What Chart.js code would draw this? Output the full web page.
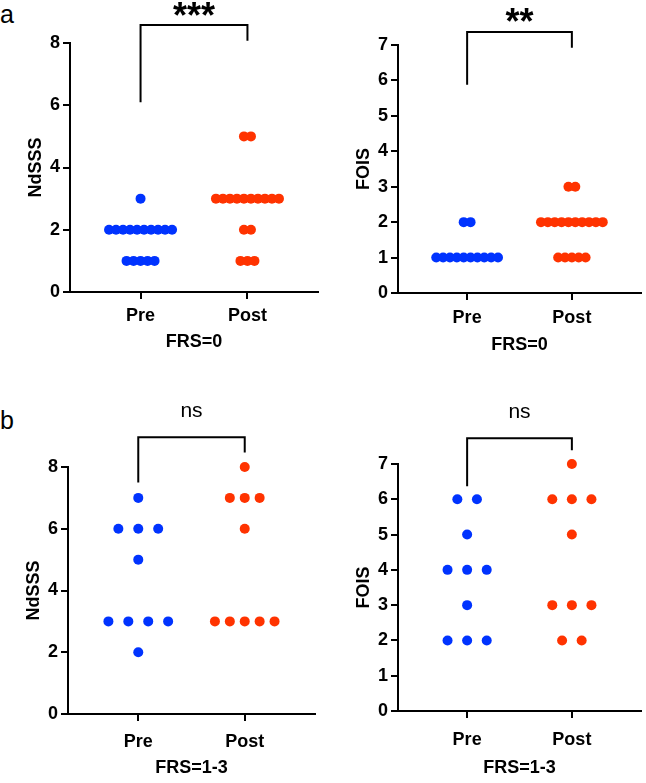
<!DOCTYPE html>
<html>
<head>
<meta charset="utf-8">
<script src="https://cdn.jsdelivr.net/npm/chart.js@4.4.0/dist/chart.umd.min.js"></script>
<style>
  body { margin: 0; background: #fff; width: 646px; height: 783px; position: relative; overflow: hidden; font-family: "Liberation Sans", Arial, sans-serif; }
  canvas { position: absolute; }
  .panel-label { position: absolute; left: 0; font-size: 25px; line-height: 1; color: #000; }
</style>
</head>
<body>
<div class="panel-label" style="top:2px">a</div>
<div class="panel-label" style="top:408px">b</div>
<canvas id="tl"></canvas>
<canvas id="tr"></canvas>
<canvas id="bl"></canvas>
<canvas id="br"></canvas>
<script>
// group names on the x axis
const groups = ['Pre', 'Post'];

// FRS=0, NdSSS
const ndsss0Pre  = [3, 2, 2, 2, 2, 2, 2, 2, 2, 2, 2, 1, 1, 1, 1, 1];
const ndsss0Post = [5, 5, 3, 3, 3, 3, 3, 3, 3, 3, 3, 3, 2, 2, 1, 1, 1];
// FRS=0, FOIS
const fois0Pre   = [2, 2, 1, 1, 1, 1, 1, 1, 1, 1, 1, 1];
const fois0Post  = [3, 3, 2, 2, 2, 2, 2, 2, 2, 2, 2, 2, 1, 1, 1, 1, 1];
// FRS=1-3, NdSSS
const ndsss13Pre  = [7, 6, 6, 6, 5, 3, 3, 3, 3, 2];
const ndsss13Post = [8, 7, 7, 7, 6, 3, 3, 3, 3, 3];
// FRS=1-3, FOIS
const fois13Pre   = [6, 6, 5, 4, 4, 4, 3, 2, 2, 2];
const fois13Post  = [7, 6, 6, 6, 5, 3, 3, 3, 2, 2];

// significance labels
const sigLabels = ['***', '**', 'ns', 'ns'];

const BLUE = '#0033ff';
const RED = '#ff3300';
Chart.defaults.font.family = "'Liberation Sans', Arial, sans-serif";
Chart.defaults.color = '#000';

// spread points with the same value side by side around the group centre
function spread(values, centre, step) {
  const counts = {}, seen = {};
  values.forEach(v => { counts[v] = (counts[v] || 0) + 1; });
  return values.map(v => {
    const k = seen[v] || 0;
    seen[v] = k + 1;
    return { x: centre + (k - (counts[v] - 1) / 2) * step, y: v };
  });
}

const bracketPlugin = {
  id: 'bracket',
  afterDraw(chart, args, o) {
    const { ctx, scales: { x, y } } = chart;
    const x1 = x.getPixelForValue(1), x2 = x.getPixelForValue(2);
    const yt = y.getPixelForValue(o.top);
    ctx.save();
    ctx.strokeStyle = '#000';
    ctx.lineWidth = 2;
    ctx.beginPath();
    ctx.moveTo(x1, y.getPixelForValue(o.leftEnd));
    ctx.lineTo(x1, yt);
    ctx.lineTo(x2, yt);
    ctx.lineTo(x2, y.getPixelForValue(o.rightEnd));
    ctx.stroke();
    ctx.fillStyle = '#000';
    ctx.font = o.font;
    ctx.textAlign = 'center';
    ctx.textBaseline = 'alphabetic';
    ctx.fillText(o.text, (x1 + x2) / 2, yt - o.gap);
    ctx.restore();
  }
};

const panels = [
  { id: 'tl', box: { left: 0, top: 0, w: 323, h: 360 }, area: { left: 70, top: 43, right: 318, bottom: 292 },
    yMax: 8, yStep: 2, yTitle: 'NdSSS', xTitle: 'FRS=0', pre: ndsss0Pre, post: ndsss0Post, steps: [0.0655, 0.0655],
    yTitlePad: 25, xTitlePad: 7, xTickPad: 6,
    bracket: { top: 8.58, leftEnd: 6.1, rightEnd: 8.07, text: sigLabels[0], font: 'bold 36px "Liberation Sans", Arial', gap: -3 } },
  { id: 'tr', box: { left: 323, top: 0, w: 323, h: 365 }, area: { left: 398, top: 45, right: 645, bottom: 293 },
    yMax: 7, yStep: 1, yTitle: 'FOIS', xTitle: 'FRS=0', pre: fois0Pre, post: fois0Post, steps: [0.0655, 0.0655],
    yTitlePad: 30, xTitlePad: 9, xTickPad: 7,
    bracket: { top: 7.37, leftEnd: 5.88, rightEnd: 6.92, text: sigLabels[1], font: 'bold 36px "Liberation Sans", Arial', gap: -2 } },
  { id: 'bl', box: { left: 0, top: 380, w: 323, h: 403 }, area: { left: 68, top: 467, right: 315, bottom: 714 },
    yMax: 8, yStep: 2, yTitle: 'NdSSS', xTitle: 'FRS=1-3', pre: ndsss13Pre, post: ndsss13Post, steps: [0.187, 0.14],
    yTitlePad: 23, xTitlePad: 4, xTickPad: 10,
    bracket: { top: 8.96, leftEnd: 7.5, rightEnd: 8.47, text: sigLabels[2], font: '21px "Liberation Sans", Arial', gap: 20 } },
  { id: 'br', box: { left: 323, top: 380, w: 323, h: 403 }, area: { left: 398, top: 464, right: 645, bottom: 711 },
    yMax: 7, yStep: 1, yTitle: 'FOIS', xTitle: 'FRS=1-3', pre: fois13Pre, post: fois13Post, steps: [0.187, 0.187],
    yTitlePad: 30, xTitlePad: 4, xTickPad: 11,
    bracket: { top: 7.73, leftEnd: 6.37, rightEnd: 7.39, text: sigLabels[3], font: '21px "Liberation Sans", Arial', gap: 20 } }
];

const tickFont = { size: 18, weight: 'bold' };
const titleFont = { size: 18, weight: 'bold' };

panels.forEach(p => {
  const cv = document.getElementById(p.id);
  cv.width = p.box.w;
  cv.height = p.box.h;
  cv.style.left = p.box.left + 'px';
  cv.style.top = p.box.top + 'px';

  new Chart(cv.getContext('2d'), {
    type: 'scatter',
    data: {
      datasets: [
        { data: spread(p.pre, 1, p.steps[0]), backgroundColor: BLUE, pointRadius: 5, pointBorderWidth: 0, clip: false },
        { data: spread(p.post, 2, p.steps[1]), backgroundColor: RED, pointRadius: 5, pointBorderWidth: 0, clip: false }
      ]
    },
    plugins: [bracketPlugin],
    options: {
      responsive: false,
      animation: false,
      events: [],
      layout: { padding: { top: p.area.top - p.box.top, right: p.box.left + p.box.w - p.area.right, left: 0, bottom: 0 } },
      plugins: {
        legend: { display: false },
        tooltip: { enabled: false },
        bracket: p.bracket
      },
      scales: {
        x: {
          type: 'linear', min: 0.34, max: 2.66,
          afterBuildTicks: s => { s.ticks = [{ value: 1 }, { value: 2 }]; },
          afterFit: s => { s.height = p.box.top + p.box.h - p.area.bottom; },
          ticks: { callback: (v, i) => groups[i], font: tickFont, color: '#000', padding: p.xTickPad },
          grid: { drawOnChartArea: false, tickLength: 7, color: '#000', lineWidth: 2 },
          border: { color: '#000', width: 2 },
          title: { display: true, text: p.xTitle, font: titleFont, color: '#000', padding: { top: 0, bottom: p.xTitlePad } }
        },
        y: {
          min: 0, max: p.yMax,
          afterFit: s => { s.width = p.area.left - p.box.left; },
          ticks: { stepSize: p.yStep, font: tickFont, color: '#000', padding: 3 },
          grid: { drawOnChartArea: false, tickLength: 7, color: '#000', lineWidth: 2 },
          border: { color: '#000', width: 2 },
          title: { display: true, text: p.yTitle, font: titleFont, color: '#000', padding: { top: p.yTitlePad, bottom: 0 } }
        }
      }
    }
  });
});
</script>
</body>
</html>
